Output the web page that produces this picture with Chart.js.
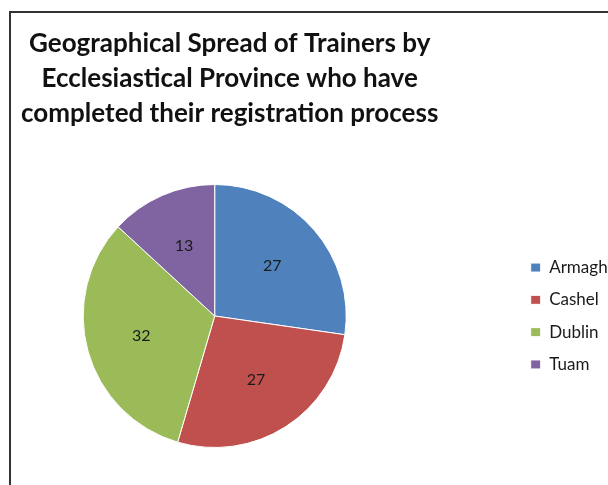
<!DOCTYPE html>
<html>
<head>
<meta charset="utf-8">
<script src="https://cdn.jsdelivr.net/npm/chart.js@4.4.1/dist/chart.umd.min.js"></script>
<style>
  html, body { margin: 0; padding: 0; background: #ffffff; overflow: hidden; width: 608px; height: 485px; position: relative; }
  #frame { position: absolute; left: 9px; top: 11px; width: 700px; height: 600px; border-top: 2px solid #333; border-left: 2px solid #333; }
  #wrap { position: absolute; top: 0; height: 485px; }
</style>
</head>
<body>
<div id="frame"></div>
<div id="wrap"><canvas id="c"></canvas></div>
<script>
const categories = ['Armagh', 'Cashel', 'Dublin', 'Tuam'];
const trainerCounts = [27, 27, 32, 13];
const sliceColors = ['#4F81BD', '#C0504D', '#9BBB59', '#8064A2'];
const titleLines = [
  'Geographical Spread of Trainers by',
  'Ecclesiastical Province who have',
  'completed their registration process'
];

const legendFontSize = 17;
const legendBox = 10;
const legendPad = 15.3;
const pieCenterPageX = 215;
const legendBoxPageX = 531;
const chartAreaRightPage = legendBoxPageX - legendPad;
const canvasLeft = 2 * pieCenterPageX - chartAreaRightPage;   // page x of canvas origin (negative)
const chartAreaRight = chartAreaRightPage - canvasLeft;        // canvas-local

// measure widest legend label to size the canvas so legend sits at the right place
const mctx = document.createElement('canvas').getContext('2d');
mctx.font = legendFontSize + 'px Lato';
const maxText = Math.max(...categories.map(t => mctx.measureText(t).width));
const legendW = legendPad + legendBox + legendFontSize / 2 + maxText + 10;
const W = Math.ceil(chartAreaRight + legendW);
const padRight = W - chartAreaRight - legendW;

const cv = document.getElementById('c');
cv.width = W; cv.height = 485;
const wrap = document.getElementById('wrap');
wrap.style.width = W + 'px';
wrap.style.left = canvasLeft + 'px';

const titlePlugin = {
  id: 'excelTitle',
  afterDraw(chart) {
    const ctx = chart.ctx;
    ctx.save();
    ctx.font = 'bold 26px Lato';
    ctx.fillStyle = '#111111';
    ctx.textAlign = 'center';
    ctx.textBaseline = 'alphabetic';
    const baselines = [52, 87, 122];
    titleLines.forEach((t, i) => ctx.fillText(t, 230 - canvasLeft, baselines[i]));
    ctx.restore();
  }
};

const sliceLabelPlugin = {
  id: 'sliceLabels',
  afterDatasetsDraw(chart) {
    const ctx = chart.ctx;
    const meta = chart.getDatasetMeta(0);
    ctx.save();
    ctx.font = '16px Lato';
    ctx.fillStyle = '#1a1a1a';
    ctx.textAlign = 'center';
    ctx.textBaseline = 'middle';
    meta.data.forEach((arc, i) => {
      const p = arc.getProps(['x', 'y', 'startAngle', 'endAngle', 'outerRadius'], true);
      const mid = (p.startAngle + p.endAngle) / 2;
      const r = p.outerRadius * 0.58;
      ctx.fillText(String(trainerCounts[i]), p.x + Math.cos(mid) * r, p.y + Math.sin(mid) * r);
    });
    ctx.restore();
  }
};

new Chart(cv, {
  type: 'pie',
  data: {
    labels: categories,
    datasets: [{
      data: trainerCounts,
      backgroundColor: sliceColors,
      borderColor: '#ffffff',
      borderWidth: 1
    }]
  },
  options: {
    responsive: false,
    devicePixelRatio: 1,
    animation: false,
    layout: { padding: { left: 0, right: padRight, top: 184, bottom: 37 } },
    plugins: {
      title: { display: false },
      tooltip: { enabled: false },
      legend: {
        position: 'right',
        align: 'center',
        labels: {
          boxWidth: legendBox,
          boxHeight: 9,
          padding: legendPad,
          color: '#1a1a1a',
          font: { family: 'Lato', size: legendFontSize }
        }
      }
    }
  },
  plugins: [titlePlugin, sliceLabelPlugin]
});
</script>
</body>
</html>
